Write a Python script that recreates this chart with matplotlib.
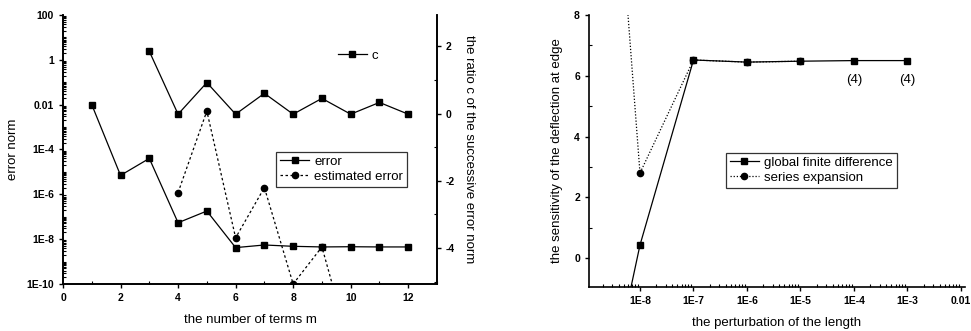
import matplotlib
matplotlib.use("Agg")
import matplotlib.pyplot as plt
import matplotlib.ticker as mticker
import numpy as np

plt.rcParams['font.family'] = ['Liberation Sans', 'DejaVu Sans']

# ---- left chart data ----
m_err = [1, 2, 3, 4, 5, 6, 7, 8, 9, 10, 11, 12]
err = [1e-2, 7e-6, 4e-5, 5.4e-8, 1.8e-7, 4.2e-9, 5.5e-9, 4.8e-9, 4.5e-9, 4.6e-9, 4.5e-9, 4.5e-9]
m_est = [4, 5, 6, 7, 8, 9, 10]
est = [1.2e-6, 5.2e-3, 1.15e-8, 2e-6, 1e-10, 4.5e-9, 1.1e-13]
m_c = [3, 4, 5, 6, 7, 8, 9, 10, 11, 12]
c_ratio = [1.85, -0.02, 0.92, -0.02, 0.6, -0.02, 0.45, -0.02, 0.33, -0.02]
left_yticks = [1e2, 1, 1e-2, 1e-4, 1e-6, 1e-8, 1e-10]
left_yticklabels = ["100", "1", "0.01", "1E-4", "1E-6", "1E-8", "1E-10"]

# ---- right chart data ----
delta_gfd = [1e-9, 1e-8, 1e-7, 1e-6, 1e-5, 1e-4, 1e-3]
gfd = [-7.8, 0.43, 6.52, 6.45, 6.48, 6.5, 6.5]
delta_se = [1e-9, 1e-8, 1e-7, 1e-6, 1e-5]
se = [26.0, 2.8, 6.52, 6.45, 6.48]
right_xticks = [1e-8, 1e-7, 1e-6, 1e-5, 1e-4, 1e-3, 1e-2]
right_xticklabels = ["1E-8", "1E-7", "1E-6", "1E-5", "1E-4", "1E-3", "0.01"]
annot_x = [1e-4, 1e-3]
annot_text = ["(4)", "(4)"]

W, H = 971, 331
fig = plt.figure(figsize=(W / 100, H / 100), dpi=100)

def fx(px):
    return px / W

def fy(py):
    return 1 - py / H

lw = 0.9
tfs = 7.5
lfs = 9.5

# ---------------- left chart ----------------
ax = fig.add_axes([fx(63), fy(284), fx(437) - fx(63), fy(15) - fy(284)])
ax.set_yscale('log')
ax.plot(m_err, err, '-', color='black', lw=lw, marker='s', ms=4, label='error')
ax.plot(m_est, est, color='black', lw=lw, ls=(0, (2, 2)), marker='o', ms=4.5,
        label='estimated error')
ax.set_xlim(0, 13)
ax.set_ylim(1e-10, 1e2)
ax.set_yticks(left_yticks)
ax.set_yticklabels(left_yticklabels)
ax.yaxis.set_minor_locator(mticker.LogLocator(base=10, subs=np.arange(1, 10), numticks=30))
ax.yaxis.set_minor_formatter(mticker.NullFormatter())
ax.set_xticks([0, 2, 4, 6, 8, 10, 12])
ax.xaxis.set_minor_locator(mticker.MultipleLocator(1))
ax.spines['top'].set_visible(False)
for s in ax.spines.values():
    s.set_linewidth(1.2)
ax.tick_params(which='major', direction='out', length=3, width=1, labelsize=tfs)
ax.tick_params(which='minor', direction='in', length=2, width=0.8)
for t in ax.get_xticklabels() + ax.get_yticklabels():
    t.set_fontweight('bold')
ax.set_xlabel('the number of terms m', fontsize=lfs, labelpad=8)
ax.set_ylabel('error norm', fontsize=lfs, labelpad=5)

ax2 = ax.twinx()
ax2.plot(m_c, c_ratio, '-', color='black', lw=lw, marker='s', ms=4, label='c')
ax2.set_ylim(-5.07, 2.93)
ax2.set_yticks([-4, -2, 0, 2])
ax2.set_yticklabels(['-4', '-2', '0', '2'])
ax2.yaxis.set_minor_locator(mticker.MultipleLocator(1))
ax2.spines['top'].set_visible(False)
for s in ax2.spines.values():
    s.set_linewidth(1.2)
ax2.tick_params(which='major', direction='out', length=3, width=1, labelsize=tfs)
ax2.tick_params(which='minor', direction='in', length=2, width=0.8)
for t in ax2.get_yticklabels():
    t.set_fontweight('bold')
ax2.set_ylabel('the ratio c of the successive error norm', fontsize=lfs,
               rotation=-90, labelpad=14)

h1, l1 = ax.get_legend_handles_labels()
leg1 = ax2.legend(h1, l1, loc='upper left', bbox_to_anchor=(0.57, 0.491),
                  borderaxespad=0, fontsize=lfs, frameon=True, fancybox=False,
                  edgecolor='black', handlelength=2.2, handletextpad=0.4,
                  borderpad=0.3, labelspacing=0.2)
leg1.get_frame().set_linewidth(0.9)
ax2.add_artist(leg1)
h2, l2 = ax2.get_legend_handles_labels()
ax2.legend(h2, l2, loc='upper left', bbox_to_anchor=(0.72, 0.89),
           borderaxespad=0, fontsize=lfs, frameon=False, handlelength=2.2,
           handletextpad=0.4)

# ---------------- right chart ----------------
bx = fig.add_axes([fx(589), fy(287), fx(965) - fx(589), fy(15) - fy(287)])
bx.set_xscale('log')
bx.plot(delta_gfd, gfd, '-', color='black', lw=lw, marker='s', ms=4,
        label='global finite difference')
bx.plot(delta_se, se, color='black', lw=lw, ls=(0, (1, 1.5)), marker='o', ms=4.5,
        label='series expansion')
for xa, ta in zip(annot_x, annot_text):
    bx.text(xa, 5.85, ta, ha='center', va='center', fontsize=lfs)
bx.set_xlim(10 ** -8.953, 10 ** -1.925)
bx.set_ylim(-0.95, 8)
bx.set_xticks(right_xticks)
bx.set_xticklabels(right_xticklabels)
bx.xaxis.set_minor_locator(mticker.LogLocator(base=10, subs=np.arange(2, 10), numticks=30))
bx.xaxis.set_minor_formatter(mticker.NullFormatter())
bx.set_yticks([0, 2, 4, 6, 8])
bx.yaxis.set_minor_locator(mticker.MultipleLocator(1))
bx.spines['top'].set_visible(False)
bx.spines['right'].set_visible(False)
for s in bx.spines.values():
    s.set_linewidth(1.2)
bx.tick_params(which='major', direction='out', length=3, width=1, labelsize=tfs)
bx.tick_params(which='minor', direction='in', length=2, width=0.8)
for t in bx.get_xticklabels() + bx.get_yticklabels():
    t.set_fontweight('bold')
bx.set_xlabel('the perturbation of the length', fontsize=lfs, labelpad=8)
bx.set_ylabel('the sensitivity of the deflection at edge', fontsize=lfs, labelpad=8)
leg3 = bx.legend(loc='upper left', bbox_to_anchor=(0.364, 0.493), borderaxespad=0,
                 fontsize=lfs, frameon=True, fancybox=False, edgecolor='black',
                 handlelength=2.2, handletextpad=0.4, borderpad=0.3, labelspacing=0.2)
leg3.get_frame().set_linewidth(0.9)

fig.savefig('out.png', dpi=100)
